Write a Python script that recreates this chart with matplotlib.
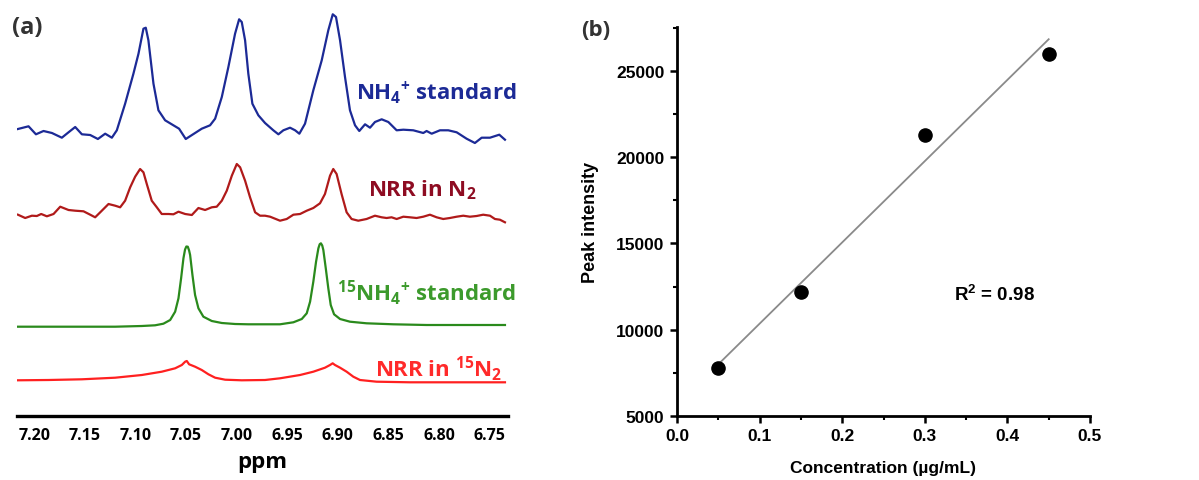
import numpy as np
import matplotlib
matplotlib.use("Agg")
import matplotlib.pyplot as plt
from matplotlib.ticker import MultipleLocator

LFONT = "Open Sans"
plt.rcParams["mathtext.fontset"] = "custom"
plt.rcParams["mathtext.bf"] = LFONT + ":bold"
plt.rcParams["mathtext.rm"] = LFONT + ":bold"
plt.rcParams["mathtext.sf"] = "Liberation Sans:bold"
plt.rcParams["mathtext.default"] = "bf"

# ---- panel (a): 1H NMR traces (ppm, intensity above each trace baseline) ----
nh4_ppm = [7.2161, 7.2056, 7.1983, 7.1908, 7.1825, 7.1727, 7.1661, 7.1595, 7.1529, 7.1447,
           7.1371, 7.1299, 7.1233, 7.1184, 7.1102, 7.1020, 7.0970, 7.0921, 7.0898, 7.0872,
           7.0822, 7.0773, 7.0707, 7.0625, 7.0569, 7.0503, 7.0411, 7.0345, 7.0263, 7.0213,
           7.0147, 7.0082, 7.0016, 6.9976, 6.9950, 6.9917, 6.9885, 6.9845, 6.9786, 6.9720,
           6.9638, 6.9588, 6.9539, 6.9473, 6.9423, 6.9381, 6.9325, 6.9243, 6.9160, 6.9095,
           6.9051, 6.9019, 6.8979, 6.8930, 6.8881, 6.8831, 6.8789, 6.8732, 6.8683, 6.8634,
           6.8568, 6.8502, 6.8420, 6.8354, 6.8256, 6.8157, 6.8124, 6.8074, 6.7992, 6.7910,
           6.7827, 6.7729, 6.7647, 6.7580, 6.7498, 6.7406, 6.7350]
nh4_int = [15.0, 17.7, 9.7, 13.0, 11.0, 6.3, 11.7, 17.0, 9.7, 9.0,
           5.0, 10.3, 6.3, 13.7, 40.3, 70.3, 90.3, 115.3, 116.3, 103.7,
           60.3, 33.7, 23.7, 18.7, 15.3, 5.0, 11.0, 15.3, 18.7, 25.3,
           47.0, 77.0, 110.3, 124.7, 122.0, 103.7, 70.3, 40.3, 28.7, 21.0,
           13.7, 9.7, 13.7, 16.3, 13.7, 10.3, 20.3, 53.7, 83.7, 113.7,
           129.7, 127.0, 103.7, 67.0, 33.7, 18.7, 13.0, 19.7, 16.3, 22.0,
           24.7, 22.0, 13.7, 14.3, 13.7, 11.0, 13.0, 10.3, 13.7, 13.7,
           11.7, 5.3, 1.0, 6.3, 6.3, 9.3, 4.3]

n2_ppm = [7.2161, 7.2089, 7.2023, 7.1974, 7.1931, 7.1875, 7.1809, 7.1743, 7.1661, 7.1595,
          7.1513, 7.1447, 7.1398, 7.1348, 7.1266, 7.1200, 7.1151, 7.1102, 7.1052, 7.1003,
          7.0954, 7.0921, 7.0888, 7.0839, 7.0789, 7.0740, 7.0674, 7.0625, 7.0575, 7.0509,
          7.0443, 7.0378, 7.0312, 7.0246, 7.0197, 7.0147, 7.0098, 7.0048, 6.9999, 6.9966,
          6.9917, 6.9868, 6.9818, 6.9769, 6.9720, 6.9670, 6.9572, 6.9506, 6.9440, 6.9374,
          6.9308, 6.9243, 6.9177, 6.9128, 6.9078, 6.9046, 6.9013, 6.8964, 6.8914, 6.8865,
          6.8799, 6.8717, 6.8634, 6.8568, 6.8519, 6.8470, 6.8420, 6.8354, 6.8289, 6.8223,
          6.8157, 6.8091, 6.8025, 6.7960, 6.7894, 6.7827, 6.7762, 6.7696, 6.7630, 6.7565,
          6.7498, 6.7449, 6.7400, 6.7350]
n2_int = [9.3, 6.0, 8.3, 8.0, 10.0, 7.7, 10.0, 17.3, 14.0, 13.3,
          12.7, 9.3, 6.7, 11.7, 20.0, 18.3, 16.7, 23.3, 36.7, 47.3,
          55.0, 51.7, 40.0, 23.3, 16.7, 10.0, 10.0, 9.7, 12.3, 10.0,
          9.0, 16.0, 14.0, 16.7, 17.3, 23.3, 33.3, 48.3, 60.0, 56.7,
          43.3, 26.7, 11.7, 8.3, 8.3, 7.3, 3.3, 5.0, 9.3, 10.0,
          13.3, 16.0, 20.7, 30.0, 48.3, 55.0, 50.0, 30.0, 11.7, 5.0,
          3.3, 5.0, 8.3, 6.7, 6.0, 6.7, 5.0, 7.3, 6.7, 6.0,
          7.3, 9.3, 6.7, 5.0, 6.0, 7.3, 8.3, 7.3, 8.0, 9.3,
          8.3, 5.0, 4.3, 1.7]

n15h4_ppm = [7.2171, 7.1859, 7.1529, 7.1200, 7.0937, 7.0806, 7.0724, 7.0657, 7.0608, 7.0575,
             7.0549, 7.0526, 7.0510, 7.0497, 7.0483, 7.0470, 7.0460, 7.0437, 7.0411, 7.0378,
             7.0329, 7.0246, 7.0147, 7.0016, 6.9885, 6.9720, 6.9572, 6.9440, 6.9357, 6.9308,
             6.9275, 6.9243, 6.9216, 6.9193, 6.9180, 6.9168, 6.9155, 6.9144, 6.9120, 6.9095,
             6.9071, 6.9038, 6.8979, 6.8881, 6.8717, 6.8453, 6.8124, 6.7795, 6.7350]
n15h4_int = [2.3, 2.3, 2.3, 2.3, 3.0, 3.7, 5.3, 9.0, 17.3, 30.7,
             50.7, 70.7, 79.5, 82.5, 82.3, 78.5, 74.0, 54.0, 34.0, 20.7,
             12.3, 8.0, 6.0, 5.0, 4.7, 4.7, 4.7, 6.7, 10.0, 15.7,
             27.3, 47.3, 67.3, 80.7, 84.8, 85.7, 83.5, 79.0, 60.7, 40.7,
             24.0, 14.7, 10.0, 7.3, 5.7, 4.7, 4.0, 4.0, 4.0]

n15_ppm = [7.2171, 7.1859, 7.1529, 7.1200, 7.0937, 7.0740, 7.0608, 7.0542, 7.0509, 7.0493,
           7.0470, 7.0411, 7.0345, 7.0279, 7.0213, 7.0114, 6.9950, 6.9720, 6.9572, 6.9374,
           6.9243, 6.9128, 6.9078, 6.9052, 6.9029, 6.8979, 6.8914, 6.8848, 6.8782, 6.8618,
           6.8289, 6.7795, 6.7350]
n15_int = [8.7, 9.0, 9.7, 11.3, 14.0, 17.3, 20.7, 24.0, 27.3, 28.0,
           24.7, 22.3, 19.0, 14.7, 11.3, 9.3, 8.7, 9.0, 10.7, 14.0,
           17.3, 21.3, 24.0, 25.7, 24.0, 21.3, 17.3, 12.3, 9.0, 7.3,
           6.7, 6.7, 6.7]

# ---- panel (b): calibration ----
conc = [0.05, 0.15, 0.30, 0.45]
peak = [7800, 12200, 21300, 26000]
r2_text = r"R$^{\mathsf{2}}$ = 0.98"

fig = plt.figure(figsize=(11.99, 4.81), dpi=100)

# panel (a)
ax1 = fig.add_axes([17 / 1199, 64 / 481, 491 / 1199, 412 / 481])
traces = [
    (nh4_ppm, nh4_int, 272, "#1c2a96", "#1c2a96", "NH$_4{}^{+}$ standard", 324),
    (n2_ppm, n2_int, 192, "#b01a1a", "#8e0c22", "NRR in N$_2$", 227),
    (n15h4_ppm, n15h4_int, 87, "#2a8a1c", "#3c9a2c", "${}^{15}$NH$_4{}^{+}$ standard", 124),
    (n15_ppm, n15_int, 27, "#ff2020", "#ff2a2a", "NRR in ${}^{15}$N$_2$", 48),
]
label_right = [6.724, 6.763, 6.724, 6.738]
for (px, iy, off, lc, tc, lab, ty), xr in zip(traces, label_right):
    ax1.plot(px, np.array(iy) + off, color=lc, lw=1.6)
    ax1.text(xr, ty, lab, color=tc, fontsize=16, fontweight="bold",
             family=LFONT, ha="right", va="center")

ax1.set_xlim(7.217, 6.732)
ax1.set_ylim(0, 412)
for s in ["left", "right", "top"]:
    ax1.spines[s].set_visible(False)
ax1.spines["bottom"].set_linewidth(2.4)
ax1.set_yticks([])
ax1.set_xticks(np.arange(6.75, 7.2001, 0.05))
ax1.set_xticklabels([f"{v:.2f}" for v in np.arange(6.75, 7.2001, 0.05)])
ax1.tick_params(axis="x", length=0, pad=8)
for t in ax1.get_xticklabels():
    t.set_fontweight("bold")
    t.set_fontsize(11.5)
    t.set_family(LFONT)
ax1.set_xlabel("ppm", fontsize=16, fontweight="bold", family=LFONT, labelpad=6)

# panel (b)
ax2 = fig.add_axes([677 / 1199, 64 / 481, 413 / 1199, 389 / 481])
slope, icpt = np.polyfit(conc, peak, 1)
xfit = np.array([conc[0], conc[-1]])
ax2.plot(xfit, slope * xfit + icpt, color="#8a8a8a", lw=1.3, zorder=1)
ax2.scatter(conc, peak, s=90, color="black", zorder=2)
ax2.text(0.335, 12100, r2_text, fontsize=13.5, fontweight="bold",
         family="Liberation Sans", va="center")

ax2.set_xlim(0, 0.5)
ax2.set_ylim(5000, 27540)
ax2.spines["top"].set_visible(False)
ax2.spines["right"].set_visible(False)
ax2.spines["left"].set_linewidth(2)
ax2.spines["bottom"].set_linewidth(2)
ax2.xaxis.set_major_locator(MultipleLocator(0.1))
ax2.xaxis.set_minor_locator(MultipleLocator(0.05))
ax2.yaxis.set_major_locator(MultipleLocator(5000))
ax2.yaxis.set_minor_locator(MultipleLocator(2500))
ax2.tick_params(which="major", direction="out", length=5, width=1.8, pad=4)
ax2.tick_params(which="minor", direction="out", length=3, width=1.5)
ax2.set_xticklabels([f"{v:.1f}" for v in ax2.get_xticks()])
for t in ax2.get_xticklabels() + ax2.get_yticklabels():
    t.set_fontweight("bold")
    t.set_fontsize(12.5)
    t.set_family("Liberation Sans")
ax2.set_xlabel("Concentration (µg/mL)", fontsize=12.5, fontweight="bold",
               family="Liberation Sans", labelpad=12)
ax2.set_ylabel("Peak intensity", fontsize=13, fontweight="bold",
               family="Liberation Sans", labelpad=12)

fig.text(12 / 1199, 1 - 28 / 481, "(a)", fontsize=17, fontweight="bold",
         family=LFONT, color="#333333", va="center")
fig.text(581 / 1199, 1 - 30 / 481, "(b)", fontsize=16, fontweight="bold",
         family=LFONT, color="#333333", va="center")

fig.savefig("out.png", dpi=100)
